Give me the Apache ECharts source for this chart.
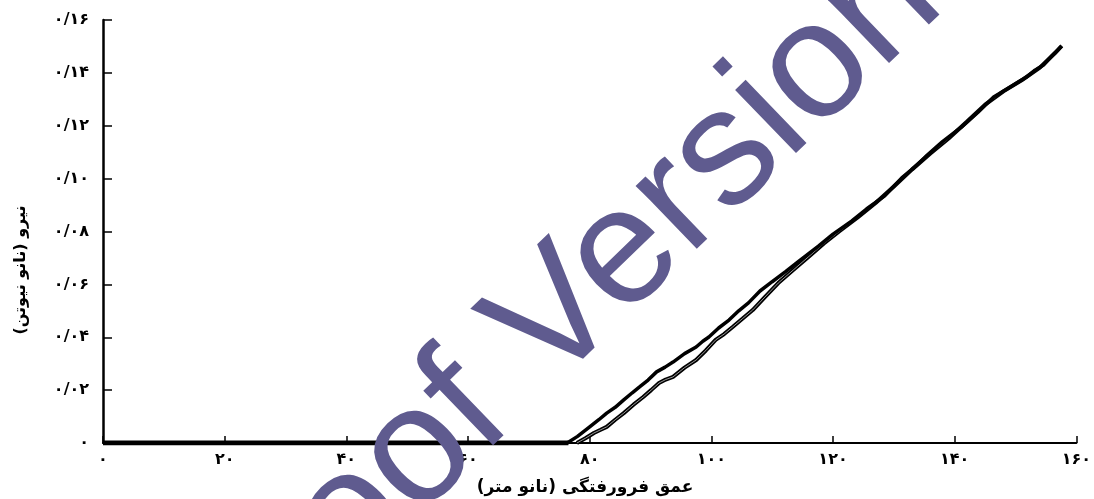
<!DOCTYPE html>
<html>
<head>
<meta charset="utf-8">
<script src="https://cdn.jsdelivr.net/npm/echarts@6/dist/echarts.min.js"></script>
<style>
  html, body { margin: 0; padding: 0; background: #ffffff; }
  #chart { width: 1094px; height: 499px; }
</style>
</head>
<body>
<div id="chart" dir="rtl"></div>
<script>
// Tick labels (Persian digits, "/" as decimal separator)
const xTickLabels = ['۰', '۲۰', '۴۰', '۶۰', '۸۰', '۱۰۰', '۱۲۰', '۱۴۰', '۱۶۰'];
const yTickLabels = ['۰', '۰/۰۲', '۰/۰۴', '۰/۰۶', '۰/۰۸', '۰/۱۰', '۰/۱۲', '۰/۱۴', '۰/۱۶'];

const xTitle = 'عمق فرورفتگی (نانو متر)';
const yTitle = 'نیرو (نانو نیوتن)';
const stampText = 'Proof Version';

// Depth (nm) vs force (nN)
const approachSegment = [[0, 0], [76.5, 0]];

const loadingCurve = [
  [76.3, 0], [78.0, 0.0025], [80.0, 0.0061], [81.5, 0.0088], [82.8, 0.0113],
  [84.2, 0.0135], [85.6, 0.0163], [87.0, 0.0190], [88.2, 0.0212], [89.6, 0.0238],
  [91.0, 0.0269], [92.4, 0.0287], [93.7, 0.0306], [95.6, 0.0338], [97.5, 0.0363],
  [98.6, 0.0385], [99.6, 0.0401], [101.2, 0.0435], [102.9, 0.0465], [104.5, 0.0500],
  [106.1, 0.0530], [108.0, 0.0575], [110.0, 0.0610], [112.2, 0.0648], [114.5, 0.0690],
  [117.6, 0.0745], [120.0, 0.0790], [123.1, 0.0840], [125.5, 0.0885], [128.5, 0.0935],
  [131.3, 0.1003], [133.5, 0.1045], [135.5, 0.1089], [138.0, 0.1140], [141.1, 0.1195],
  [143.8, 0.1250], [146.4, 0.1309], [149.0, 0.1345], [151.8, 0.1384], [153.2, 0.1410],
  [154.6, 0.1430], [156.0, 0.1465], [157.6, 0.1502]
];

const unloadingCurve = [
  [77.9, 0], [79.3, 0.0018], [80.7, 0.0038], [81.8, 0.0050], [82.8, 0.0061],
  [84.2, 0.0088], [85.6, 0.0113], [87.2, 0.0145], [88.8, 0.0174], [90.1, 0.0200],
  [91.4, 0.0227], [92.5, 0.0240], [93.7, 0.0250], [95.6, 0.0285], [97.5, 0.0314],
  [99.1, 0.0350], [100.7, 0.0390], [102.1, 0.0412], [103.5, 0.0439], [105.1, 0.0470],
  [106.8, 0.0503], [108.8, 0.0552], [111.0, 0.0605], [113.5, 0.0655], [116.0, 0.0705],
  [118.5, 0.0755], [121.0, 0.0800], [124.0, 0.0852], [127.0, 0.0908], [130.0, 0.0970],
  [133.0, 0.1035], [136.0, 0.1095], [139.0, 0.1152], [142.0, 0.1215], [145.0, 0.1280],
  [148.0, 0.1330], [151.0, 0.1372], [154.0, 0.1420], [156.5, 0.1475], [157.6, 0.1502]
];

const labelFont = {
  color: '#000000',
  fontFamily: '"DejaVu Sans"',
  fontWeight: 'bold',
  fontSize: 16
};

const chart = echarts.init(document.getElementById('chart'), null, { renderer: 'canvas' });

chart.setOption({
  animation: false,
  backgroundColor: '#ffffff',
  grid: { left: 103, right: 11, top: 20, bottom: 56, containLabel: false },
  xAxis: {
    type: 'value',
    min: 0, max: 160, interval: 20,
    axisLine: { lineStyle: { color: '#000000', width: 2 } },
    axisTick: { inside: true, length: 7, lineStyle: { color: '#000000', width: 1.5 } },
    splitLine: { show: false },
    axisLabel: Object.assign({
      margin: 9,
      formatter: (v) => xTickLabels[Math.round(v / 20)]
    }, labelFont)
  },
  yAxis: {
    type: 'value',
    min: 0, max: 0.16, interval: 0.02,
    axisLine: { lineStyle: { color: '#000000', width: 2.5 } },
    axisTick: { inside: true, length: 9, lineStyle: { color: '#000000', width: 1.5 } },
    splitLine: { show: false },
    axisLabel: Object.assign({
      margin: 14,
      formatter: (v) => yTickLabels[Math.round(v / 0.02)]
    }, labelFont)
  },
  series: [
    {
      // flat approach before contact
      type: 'line', data: approachSegment, symbol: 'none', silent: true,
      lineStyle: { color: '#000000', width: 5 }, z: 3
    },
    {
      // unloading trace: heavy stroke with a faint light core
      type: 'line', data: unloadingCurve, symbol: 'none', silent: true,
      lineStyle: { color: '#000000', width: 4 }, z: 3
    },
    {
      type: 'line', data: unloadingCurve, symbol: 'none', silent: true,
      lineStyle: { color: '#ffffff', width: 1, opacity: 0.6 }, z: 3
    },
    {
      // loading trace
      type: 'line', data: loadingCurve, symbol: 'none', silent: true,
      lineStyle: { color: '#000000', width: 3.5 }, z: 4
    }
  ],
  graphic: [
    {
      type: 'text', x: 585, y: 488, z: 10,
      style: {
        text: xTitle, fill: '#000000',
        font: 'bold 17px "DejaVu Sans"',
        textAlign: 'center', textVerticalAlign: 'middle'
      }
    },
    {
      type: 'text', x: 21, y: 270, rotation: Math.PI / 2, z: 10,
      style: {
        text: yTitle, fill: '#000000',
        font: 'bold 16px "DejaVu Sans"',
        textAlign: 'center', textVerticalAlign: 'middle'
      }
    },
    {
      type: 'text', x: 557, y: 320, rotation: 0.768, z: 100,
      style: {
        text: stampText, fill: '#5f5b8f',
        font: 'normal 166px "Liberation Sans"',
        textAlign: 'center', textVerticalAlign: 'middle'
      }
    }
  ]
});
</script>
</body>
</html>
